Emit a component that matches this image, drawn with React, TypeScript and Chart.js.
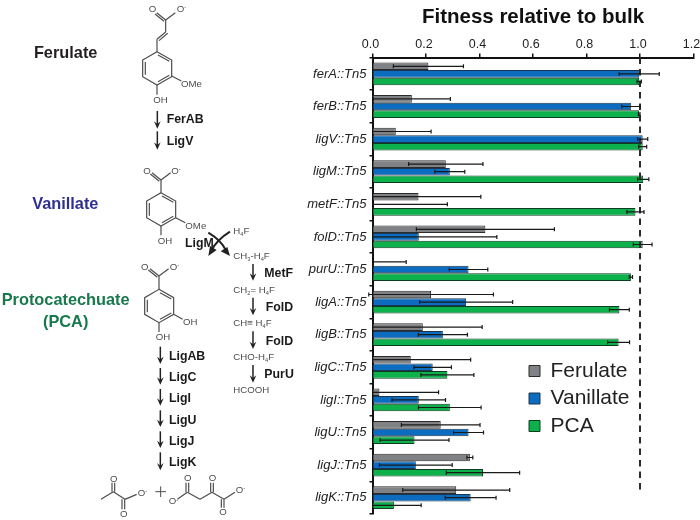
import React, { useEffect, useRef } from "react";
import { Chart, registerables } from "chart.js";

Chart.register(...registerables);

const FONT = '"Liberation Sans", Arial, sans-serif';

const titleText = "Fitness relative to bulk";
const strains = ["ferA::Tn5","ferB::Tn5","ligV::Tn5","ligM::Tn5","metF::Tn5","folD::Tn5","purU::Tn5","ligA::Tn5","ligB::Tn5","ligC::Tn5","ligI::Tn5","ligU::Tn5","ligJ::Tn5","ligK::Tn5"];
const seriesNames = ["Ferulate", "Vanillate", "PCA"];
const ferulate = [0.209,0.147,0.087,0.274,0.172,0.422,0,0.219,0.188,0.143,0.026,0.255,0.364,0.313];
const ferulateErr = [0.131,0.144,0.132,0.139,0.233,0.258,0.126,0.233,0.222,0.224,0.221,0.147,0.011,0.2];
const vanillate = [0.997,0.966,1.01,0.289,0,0.173,0.359,0.35,0.263,0.225,0.173,0.359,0.162,0.367];
const vanillateErr = [0.075,0.034,0.019,0.056,0.28,0.292,0.072,0.174,0.092,0.07,0.1,0.056,0.136,0.095];
const pca = [0.997,0.997,1.01,1.012,0.983,1.01,0.966,0.923,0.92,0.28,0.289,0.157,0.413,0.08];
const pcaErr = [0.008,0.003,0.015,0.021,0.032,0.035,0.006,0.037,0.041,0.099,0.117,0.129,0.137,0.102];
const errors = [ferulateErr, vanillateErr, pcaErr];
const referenceValue = 1;

const errorBarPlugin = {
  id: "errorBars",
  afterDatasetsDraw(chart: any) {
    const { ctx, scales } = chart;
    const x = scales.x;
    ctx.save();
    const rx = x.getPixelForValue(referenceValue);
    ctx.strokeStyle = "#2b2b2b";
    ctx.lineWidth = 2;
    ctx.setLineDash([6.5, 5]);
    ctx.beginPath();
    ctx.moveTo(rx, chart.chartArea.top);
    ctx.lineTo(rx, chart.chartArea.bottom - 21);
    ctx.stroke();
    ctx.setLineDash([]);
    ctx.strokeStyle = "#1a1a1a";
    ctx.lineWidth = 1.2;
    chart.data.datasets.forEach((ds: any, di: number) => {
      const meta = chart.getDatasetMeta(di);
      meta.data.forEach((bar: any, i: number) => {
        const v = ds.data[i];
        const e = errors[di][i];
        const y = bar.y;
        const hi = x.getPixelForValue(v + e);
        const lowVal = v - e;
        const showLow = lowVal >= -0.02;
        const lo = x.getPixelForValue(showLow ? lowVal : 0);
        ctx.beginPath();
        ctx.moveTo(lo, y);
        ctx.lineTo(hi, y);
        ctx.moveTo(hi, y - 2);
        ctx.lineTo(hi, y + 2);
        if (showLow) {
          ctx.moveTo(lo, y - 2);
          ctx.lineTo(lo, y + 2);
        }
        ctx.stroke();
      });
    });
    ctx.restore();
  },
};

const legendPlacer = {
  id: "legendPlacer",
  afterLayout(chart: any) {
    const l = chart.legend;
    const dx = 529 - l.left - 6.5;
    const dy = 354 - l.top;
    l.left += dx; l.right += dx; l.top += dy; l.bottom += dy;
  },
};

const STROKE = "#4d4d4d";
const CHEM = { fontFamily: FONT, fontSize: 29, fill: "#4d4d4d" } as const;
const BOLD = { fontFamily: FONT, fontSize: 37, fontWeight: 700, fill: "#1a1a1a" } as const;

const Arrow = ({ x, y1, y2 }: { x: number; y1: number; y2: number }) => (
  <g>
    <line x1={x} y1={y1} x2={x} y2={y2 - 8} stroke="#222" strokeWidth={4.5} />
    <path d={`M${x - 10} ${y2 - 22} L${x} ${y2} L${x + 10} ${y2 - 22} L${x} ${y2 - 14} Z`} fill="#222" />
  </g>
);

// "_" marks the next character as a subscript, "^" as a superscript
const Chem = ({ x, y, t }: { x: number; y: number; t: string }) => {
  const parts: any[] = [];
  let buf = "";
  let shift = 0;
  for (let i = 0; i < t.length; i++) {
    const c = t[i];
    if (c === "_" || c === "^") {
      if (buf) parts.push(<tspan key={i} dy={shift}>{buf}</tspan>);
      buf = "";
      const d = c === "_" ? 6 : -8;
      parts.push(<tspan key={`s${i}`} fontSize={17} dy={d}>{t[i + 1]}</tspan>);
      shift = -d;
      i++;
    } else buf += c;
  }
  if (buf) parts.push(<tspan key="end" dy={shift}>{buf}</tspan>);
  return <text x={x} y={y} {...CHEM}>{parts}</text>;
};

const Ring = ({ cx, top }: { cx: number; top: number }) => {
  const pts = [[cx, top],[cx + 44, top + 25],[cx + 44, top + 75],[cx, top + 100],[cx - 43, top + 75],[cx - 43, top + 25]];
  return (
    <g stroke={STROKE} strokeWidth={3.6} fill="none">
      <polygon points={pts.map((p) => p.join(",")).join(" ")} />
      <line x1={cx - 35} y1={top + 31} x2={cx - 35} y2={top + 69} />
      <line x1={cx + 3} y1={top + 10} x2={cx + 37} y2={top + 29} />
      <line x1={cx + 3} y1={top + 90} x2={cx + 37} y2={top + 71} />
    </g>
  );
};

const Carboxyl = ({ cx, cy }: { cx: number; cy: number }) => (
  <g stroke={STROKE} strokeWidth={3.6} fill="none">
    <line x1={cx} y1={cy} x2={cx - 27} y2={cy - 22} />
    <line x1={cx - 5} y1={cy + 4} x2={cx - 32} y2={cy - 18} />
    <line x1={cx} y1={cy} x2={cx + 29} y2={cy - 22} />
  </g>
);

const Diagram = () => (
  <svg width={372} height={520} style={{ position: "absolute", left: 0, top: 0, willChange: "transform" }}>
    <g transform="scale(0.33333)">
      <text x={197} y={174} textAnchor="middle" fontFamily={FONT} fontSize={49} fontWeight={700} fill="#231f20">Ferulate</text>
      <text x={196} y={628} textAnchor="middle" fontFamily={FONT} fontSize={49} fontWeight={700} fill="#2e3192">Vanillate</text>

      <Ring cx={471} top={155} />
      <g stroke={STROKE} strokeWidth={3.6} fill="none">
        <line x1={471} y1={155} x2={471} y2={118} />
        <line x1={471} y1={118} x2={497} y2={96} />
        <line x1={477} y1={122} x2={503} y2={100} />
        <line x1={497} y1={96} x2={497} y2={60} />
        <line x1={515} y1={228} x2={544} y2={243} />
        <line x1={471} y1={255} x2={471} y2={284} />
      </g>
      <Carboxyl cx={497} cy={60} />
      <Chem x={446} y={36} t="O" />
      <Chem x={530} y={36} t="O^-" />
      <Chem x={543} y={261} t="OMe" />
      <Chem x={460} y={308} t="OH" />
      <Arrow x={472} y1={333} y2={386} />
      <Arrow x={472} y1={394} y2={449} />
      <text x={500} y={370} {...BOLD}>FerAB</text>
      <text x={500} y={436} {...BOLD}>LigV</text>

      <Ring cx={483} top={578} />
      <g stroke={STROKE} strokeWidth={3.6} fill="none">
        <line x1={483} y1={578} x2={483} y2={540} />
        <line x1={527} y1={653} x2={556} y2={668} />
        <line x1={483} y1={678} x2={483} y2={706} />
      </g>
      <Carboxyl cx={483} cy={540} />
      <Chem x={430} y={521} t="O" />
      <Chem x={514} y={521} t="O^-" />
      <Chem x={556} y={686} t="OMe" />
      <Chem x={473} y={733} t="OH" />
      <text x={555} y={742} {...BOLD}>LigM</text>
      <g stroke="#222" strokeWidth={6} fill="none">
        <path d="M625 698 Q665 722 678 752" />
        <path d="M690 695 Q650 720 634 752" />
      </g>
      <path d="M690 768 L662 754 L682 741 Z" fill="#222" />
      <path d="M625 768 L630 738 L650 750 Z" fill="#222" />
      <Chem x={700} y={702} t="H_4F" />
      <Chem x={700} y={776} t="CH_3-H_4F" />
    </g>

    <g transform="translate(0 260) scale(0.33333)">
      <text x={197} y={135} textAnchor="middle" fontFamily={FONT} fontSize={49} fontWeight={700} fill="#18794e">Protocatechuate</text>
      <text x={197} y={200} textAnchor="middle" fontFamily={FONT} fontSize={49} fontWeight={700} fill="#18794e">(PCA)</text>

      <Ring cx={477} top={88} />
      <g stroke={STROKE} strokeWidth={3.6} fill="none">
        <line x1={477} y1={88} x2={477} y2={48} />
        <line x1={521} y1={163} x2={548} y2={178} />
        <line x1={477} y1={188} x2={477} y2={216} />
      </g>
      <Carboxyl cx={477} cy={48} />
      <Chem x={423} y={29} t="O" />
      <Chem x={509} y={29} t="O^-" />
      <Chem x={549} y={195} t="OH" />
      <Chem x={467} y={241} t="OH" />

      <Arrow x={481} y1={260} y2={312} />
      <Arrow x={481} y1={324} y2={374} />
      <Arrow x={481} y1={387} y2={437} />
      <Arrow x={481} y1={451} y2={501} />
      <Arrow x={481} y1={514} y2={564} />
      <Arrow x={481} y1={577} y2={631} />
      <text x={507} y={300} {...BOLD}>LigAB</text>
      <text x={507} y={363} {...BOLD}>LigC</text>
      <text x={507} y={426} {...BOLD}>LigI</text>
      <text x={507} y={491} {...BOLD}>LigU</text>
      <text x={507} y={555} {...BOLD}>LigJ</text>
      <text x={507} y={618} {...BOLD}>LigK</text>

      <Arrow x={759} y1={12} y2={62} />
      <Arrow x={759} y1={113} y2={166} />
      <Arrow x={759} y1={214} y2={267} />
      <Arrow x={759} y1={315} y2={368} />
      <text x={793} y={52} {...BOLD}>MetF</text>
      <text x={797} y={153} {...BOLD}>FolD</text>
      <text x={797} y={254} {...BOLD}>FolD</text>
      <text x={793} y={354} {...BOLD}>PurU</text>
      <Chem x={700} y={98} t="CH_2= H_4F" />
      <Chem x={700} y={199} t="CH≡ H_4F" />
      <Chem x={700} y={299} t="CHO-H_4F" />
      <Chem x={700} y={399} t="HCOOH" />

      <g stroke={STROKE} strokeWidth={3.6} fill="none">
        <line x1={303} y1={718} x2={340} y2={695} />
        <line x1={340} y1={695} x2={375} y2={718} />
        <line x1={336} y1={695} x2={336} y2={668} />
        <line x1={344} y1={695} x2={344} y2={668} />
        <line x1={366} y1={718} x2={366} y2={748} />
        <line x1={374} y1={718} x2={374} y2={748} />
        <line x1={375} y1={718} x2={410} y2={703} />
        <line x1={466} y1={695} x2={498} y2={695} strokeWidth={3} />
        <line x1={482} y1={679} x2={482} y2={711} strokeWidth={3} />
        <line x1={532} y1={718} x2={562} y2={697} />
        <line x1={562} y1={697} x2={600} y2={718} />
        <line x1={600} y1={718} x2={636} y2={697} />
        <line x1={636} y1={697} x2={672} y2={718} />
        <line x1={672} y1={718} x2={705} y2={697} />
        <line x1={558} y1={697} x2={558} y2={668} />
        <line x1={566} y1={697} x2={566} y2={668} />
        <line x1={632} y1={697} x2={632} y2={668} />
        <line x1={640} y1={697} x2={640} y2={668} />
        <line x1={664} y1={718} x2={664} y2={743} />
        <line x1={672} y1={718} x2={672} y2={743} />
      </g>
      <Chem x={330} y={667} t="O" />
      <Chem x={360} y={771} t="O" />
      <Chem x={413} y={708} t="O^-" />
      <Chem x={506} y={733} t="O^-" />
      <Chem x={552} y={663} t="O" />
      <Chem x={626} y={663} t="O" />
      <Chem x={658} y={766} t="O" />
      <Chem x={707} y={699} t="O^-" />
    </g>
  </svg>
);

export default function App() {
  const ref = useRef<HTMLCanvasElement>(null);
  useEffect(() => {
    const chart = new Chart(ref.current!, {
      type: "bar",
      data: {
        labels: strains,
        datasets: [
          { label: seriesNames[0], data: ferulate, backgroundColor: "#808285", borderColor: "#2b2b2b", borderWidth: 1 },
          { label: seriesNames[1], data: vanillate, backgroundColor: "#0b6cc0", borderColor: "#1c3550", borderWidth: 1 },
          { label: seriesNames[2], data: pca, backgroundColor: "#0cb14b", borderColor: "#0d3d20", borderWidth: 1 },
        ],
      },
      options: {
        indexAxis: "y",
        responsive: false,
        animation: false,
        layout: { padding: { left: 0, right: 6.5, top: 0, bottom: 6 } },
        datasets: { bar: { categoryPercentage: 0.7, barPercentage: 1 } },
        scales: {
          x: {
            position: "top",
            min: 0,
            max: 1.2,
            afterFit: (s: any) => { s.height = 27.6; s.paddingLeft = 0; s.paddingRight = 0; },
            border: { color: "#111", width: 2 },
            grid: { drawOnChartArea: false, tickLength: 4, color: "#111", lineWidth: 1.5 },
            ticks: { stepSize: 0.2, padding: 2, labelOffset: -2, maxRotation: 0, color: "#222", font: { family: FONT, size: 12.5 }, callback: (v: any) => Number(v).toFixed(1) },
          },
          y: {
            afterFit: (s: any) => { s.width = 372.5; s.paddingTop = 0; s.paddingBottom = 0; },
            border: { color: "#111", width: 2 },
            grid: { drawOnChartArea: false, tickLength: 3, color: "#111", lineWidth: 1.5 },
            ticks: { padding: 3, color: "#222", font: { family: FONT, size: 13, style: "italic" } },
          },
        },
        plugins: {
          title: {
            display: true,
            text: titleText,
            fullSize: false,
            color: "#111",
            font: { family: FONT, size: 20.5, weight: "bold" },
            padding: { top: 5.4, bottom: 0 },
          },
          legend: {
            position: "chartArea",
            align: "start",
            onClick: () => {},
            labels: { boxWidth: 11, boxHeight: 11, padding: 6.5, color: "#222", font: { family: FONT, size: 21 } },
          },
          tooltip: { enabled: false },
        },
      } as any,
      plugins: [errorBarPlugin, legendPlacer],
    });
    return () => chart.destroy();
  }, []);
  return (
    <div style={{ position: "absolute", left: 0, top: 0, width: 700, height: 520, background: "#fff", overflow: "hidden" }}>
      <Diagram />
      <canvas ref={ref} width={700} height={520} style={{ position: "absolute", left: 0, top: 0 }} />
    </div>
  );
}
